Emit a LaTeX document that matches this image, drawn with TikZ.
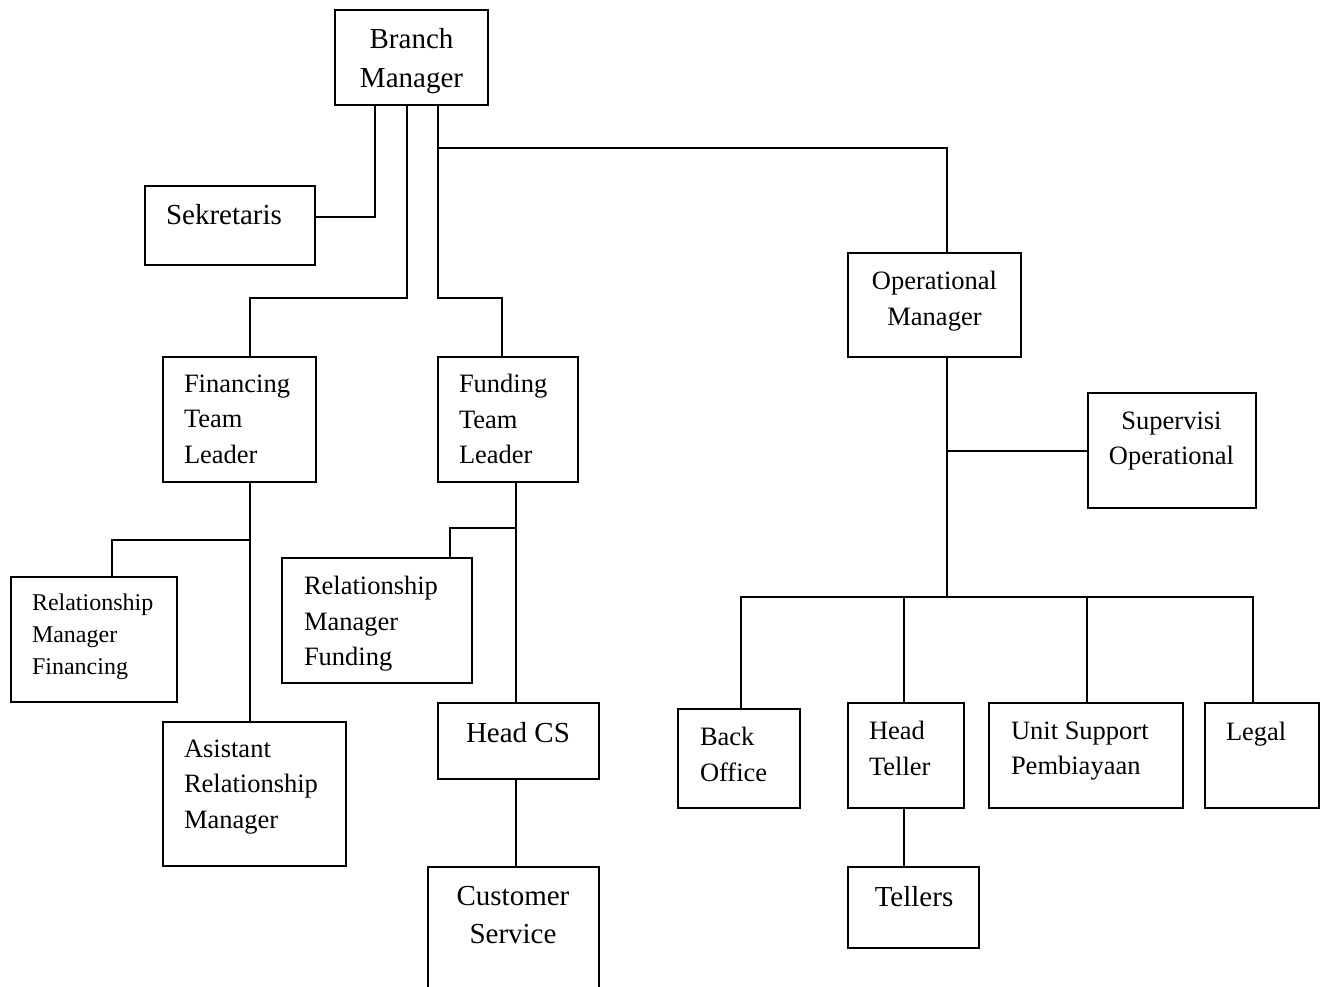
\documentclass[tikz,border=0pt]{standalone}
\usepackage{fontspec}
\setmainfont{Liberation Serif}
\usetikzlibrary{calc}

\begin{document}
\begin{tikzpicture}[x=1pt, y=-1pt, line width=2pt,
 unit/.style 2 args={draw, inner sep=0, minimum width=#1, minimum height=#2},
 txt/.style={inner sep=0, align=left, anchor=north west},
 ctxt/.style={inner sep=0, align=center, anchor=north},
 big/.style={font=\fontsize{29}{38.5}\selectfont},
 mid/.style={font=\fontsize{26.5}{35.5}\selectfont},
 small/.style={font=\fontsize{24}{32}\selectfont}]
\clip (0,0) rectangle (1326,986);
\foreach \n/\x/\y/\w/\h in {bm/411.5/57.5/153/95, sek/230/225.5/170/79,
 ftl/239.5/419.5/153/125, fdtl/508/419.5/140/125, om/934.5/305/173/104,
 sv/1172/450.5/168/115, rmfi/94/639.5/166/125, arm/254.5/794/183/144,
 rmfu/377/620.5/190/125, hcs/518.5/741/161/76, cs/513.5/933.5/171/133,
 bo/739/758.5/122/99, ht/906/755.5/116/105, us/1086/755.5/194/105,
 lg/1262/755.5/114/105, tl/913.5/907.5/131/81}
 \node[unit={\w pt}{\h pt}] (\n) at (\x,\y) {};

\node[ctxt, big] (bmt) at (411.5,27.5) {Branch\\Manager};
\node[txt, big] (sekt) at (165,203) {Sekretaris};
\node[txt, mid] (ftlt) at (183,373.5) {Financing\\Team\\Leader};
\node[txt, mid] (fdtlt) at (458,373.5) {Funding\\Team\\Leader};
\node[ctxt, mid] (omt) at (934.5,270.5) {Operational\\Manager};
\node[ctxt, mid] (svt) at (1171.5,410.5) {Supervisi\\Operational};
\node[txt, small] (rmfit) at (31,593) {Relationship\\Manager\\Financing};
\node[txt, mid] (armt) at (183,738.5) {Asistant\\Relationship\\Manager};
\node[txt, mid] (rmfut) at (303,575.5) {Relationship\\Manager\\Funding};
\node[ctxt, big] (hcst) at (518,721) {Head CS};
\node[ctxt, big] (cst) at (513,885) {Customer\\Service};
\node[txt, mid] (bot) at (699,726.5) {Back\\Office};
\node[txt, mid] (htt) at (868,720.5) {Head\\Teller};
\node[txt, mid] (ust) at (1010,720.5) {Unit Support\\Pembiayaan};
\node[txt, mid] (lgt) at (1225,721.5) {Legal};
\node[ctxt, big] (tlt) at (914,885) {Tellers};

\coordinate (bus) at (947,597);
\coordinate (fbr) at (250,540);
\coordinate (dbr) at (516,528);

\draw ([xshift=-36.5pt]bm.south) |- ([yshift=8.5pt]sek.east);
\draw ([xshift=-4.5pt]bm.south) -- ++(0,192) -| ([xshift=10.5pt]ftl.north);
\draw ([xshift=26.5pt]bm.south) -- ++(0,192) -| ([xshift=-6pt]fdtl.north);
\draw ([xshift=26.5pt]bm.south) ++(0,42) -| ([xshift=12.5pt]om.north);

\draw ([xshift=12.5pt]om.south) -- (bus);
\draw (sv.west -| bus) -- (sv.west);
\draw ([xshift=2pt]bo.north) |- (bus) -| ([xshift=-9pt]lg.north);
\foreach \n/\s in {ht/-2, us/1}
 \draw ([xshift=\s pt]\n.north) -- ([xshift=\s pt]\n.north |- bus);
\draw ([xshift=-2pt]ht.south) -- ([xshift=-2pt]ht.south |- tl.north);

\draw ([xshift=10.5pt]ftl.south) -- ([xshift=10.5pt]ftl.south |- arm.north);
\draw ([xshift=18pt]rmfi.north) |- (fbr);
\draw ([xshift=8pt]fdtl.south) -- ([xshift=8pt]fdtl.south |- hcs.north);
\draw ([xshift=73pt]rmfu.north) |- (dbr);
\draw ([xshift=-2.5pt]hcs.south) -- ([xshift=-2.5pt]hcs.south |- cs.north);
\end{tikzpicture}
\end{document}
